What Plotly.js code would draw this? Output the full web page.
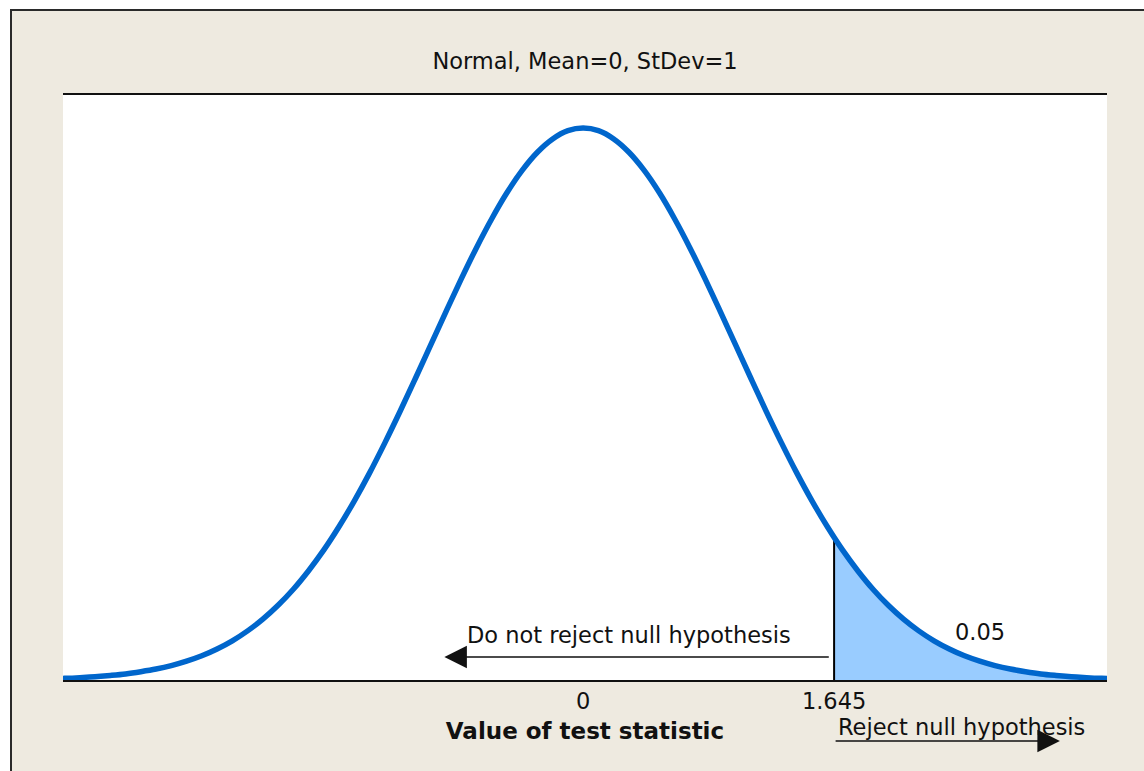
<!DOCTYPE html>
<html>
<head>
<meta charset="utf-8">
<script src="https://cdn.plot.ly/plotly-3.0.1.min.js"></script>
<style>
  html, body { margin: 0; padding: 0; background: #ffffff; width: 1144px; height: 771px; overflow: hidden; }
  #wrap { position: absolute; left: 10px; top: 9px; width: 1134px; height: 762px;
          border-left: 2px solid #2a2a2a; border-top: 2px solid #2a2a2a; background: #EEEAE0; }
  #chart { width: 1132px; height: 760px; }
</style>
</head>
<body>
<div id="wrap"><div id="chart"></div></div>
<script>
// Standard normal density read at steps of 0.1 (x from -3.5 to 3.5)
const xVals = [-3.5,-3.4,-3.3,-3.2,-3.1,-3.0,-2.9,-2.8,-2.7,-2.6,-2.5,-2.4,-2.3,-2.2,-2.1,-2.0,-1.9,-1.8,-1.7,-1.6,-1.5,-1.4,-1.3,-1.2,-1.1,-1.0,-0.9,-0.8,-0.7,-0.6,-0.5,-0.4,-0.3,-0.2,-0.1,0.0,0.1,0.2,0.3,0.4,0.5,0.6,0.7,0.8,0.9,1.0,1.1,1.2,1.3,1.4,1.5,1.6,1.7,1.8,1.9,2.0,2.1,2.2,2.3,2.4,2.5,2.6,2.7,2.8,2.9,3.0,3.1,3.2,3.3,3.4,3.5];
const density = [0.0009,0.0012,0.0017,0.0024,0.0033,0.0044,0.0060,0.0079,0.0104,0.0136,0.0175,0.0224,0.0283,0.0355,0.0440,0.0540,0.0656,0.0790,0.0940,0.1109,0.1295,0.1497,0.1714,0.1942,0.2179,0.2420,0.2661,0.2897,0.3123,0.3332,0.3521,0.3683,0.3814,0.3910,0.3970,0.3989,0.3970,0.3910,0.3814,0.3683,0.3521,0.3332,0.3123,0.2897,0.2661,0.2420,0.2179,0.1942,0.1714,0.1497,0.1295,0.1109,0.0940,0.0790,0.0656,0.0540,0.0440,0.0355,0.0283,0.0224,0.0175,0.0136,0.0104,0.0079,0.0060,0.0044,0.0033,0.0024,0.0017,0.0012,0.0009];

// Critical value and the density there
const critValue = 1.645;
const critDensity = 0.1031;
const tailArea = "0.05";

// Tick labels
const tickVals = [0, critValue];
const tickText = ["0", "1.645"];

// Rejection region (tail beyond the critical value)
const tailX = [critValue].concat(xVals.filter(v => v > critValue));
const tailY = [critDensity].concat(density.filter((d, i) => xVals[i] > critValue));

const FONT = "DejaVu Sans, Verdana, sans-serif";
const FS = 22.5;

const traces = [
  { x: tailX, y: tailY, type: "scatter", mode: "lines", fill: "tozeroy",
    fillcolor: "#99CCFF", line: { width: 0, shape: "spline" }, hoverinfo: "skip", showlegend: false },
  { x: [critValue, critValue], y: [0, critDensity], type: "scatter", mode: "lines",
    line: { color: "#000000", width: 2 }, hoverinfo: "skip", showlegend: false },
  { x: xVals, y: density, type: "scatter", mode: "lines",
    line: { color: "#0066CC", width: 5.5, shape: "spline" }, showlegend: false }
];

const layout = {
  width: 1132, height: 760,
  margin: { l: 51, r: 37, t: 84, b: 91 },
  paper_bgcolor: "#EEEAE0",
  plot_bgcolor: "#FFFFFF",
  font: { family: FONT, color: "#111111", size: FS },
  title: { text: "Normal, Mean=0, StDev=1", x: 0.5, xref: "paper", y: 0.934, yref: "container",
           yanchor: "middle", font: { family: FONT, size: FS, color: "#111111" } },
  xaxis: {
    range: [-3.41, 3.434], showgrid: false, zeroline: false,
    showline: true, mirror: true, linecolor: "#111111", linewidth: 2,
    tickmode: "array", tickvals: tickVals, ticktext: tickText, ticks: "",
    tickfont: { family: FONT, size: FS, color: "#111111" },
    title: { text: "<b>Value of test statistic</b>", standoff: 10,
             font: { family: FONT, size: 23, color: "#111111" } }
  },
  yaxis: { range: [0, 0.4228], showgrid: false, zeroline: false, showline: false,
           showticklabels: false, ticks: "" },
  annotations: [
    { x: 0.30, y: 0.0325, xref: "x", yref: "y", text: "Do not reject null hypothesis",
      showarrow: false, font: { family: FONT, size: FS, color: "#111111" } },
    { x: -0.91, y: 0.0166, xref: "x", yref: "y", ax: 1.62, ay: 0.0166, axref: "x", ayref: "y",
      text: "", showarrow: true, arrowhead: 2, arrowsize: 3, arrowwidth: 1.5, arrowcolor: "#111111" },
    { x: 2.60, y: 0.0347, xref: "x", yref: "y", text: tailArea,
      showarrow: false, font: { family: FONT, size: FS, color: "#111111" } },
    { x: 2.48, y: -0.0803, xref: "x", yref: "paper", xanchor: "center", yanchor: "middle",
      text: "Reject null hypothesis",
      showarrow: false, font: { family: FONT, size: FS, color: "#111111" } },
    { x: 3.125, y: -0.1043, xref: "x", yref: "paper", ax: critValue, ay: 0, axref: "x", ayref: "pixel",
      text: "", showarrow: true, arrowhead: 2, arrowsize: 3, arrowwidth: 1.5, arrowcolor: "#111111" }
  ]
};

Plotly.newPlot("chart", traces, layout, { displayModeBar: false, staticPlot: true });
</script>
</body>
</html>
